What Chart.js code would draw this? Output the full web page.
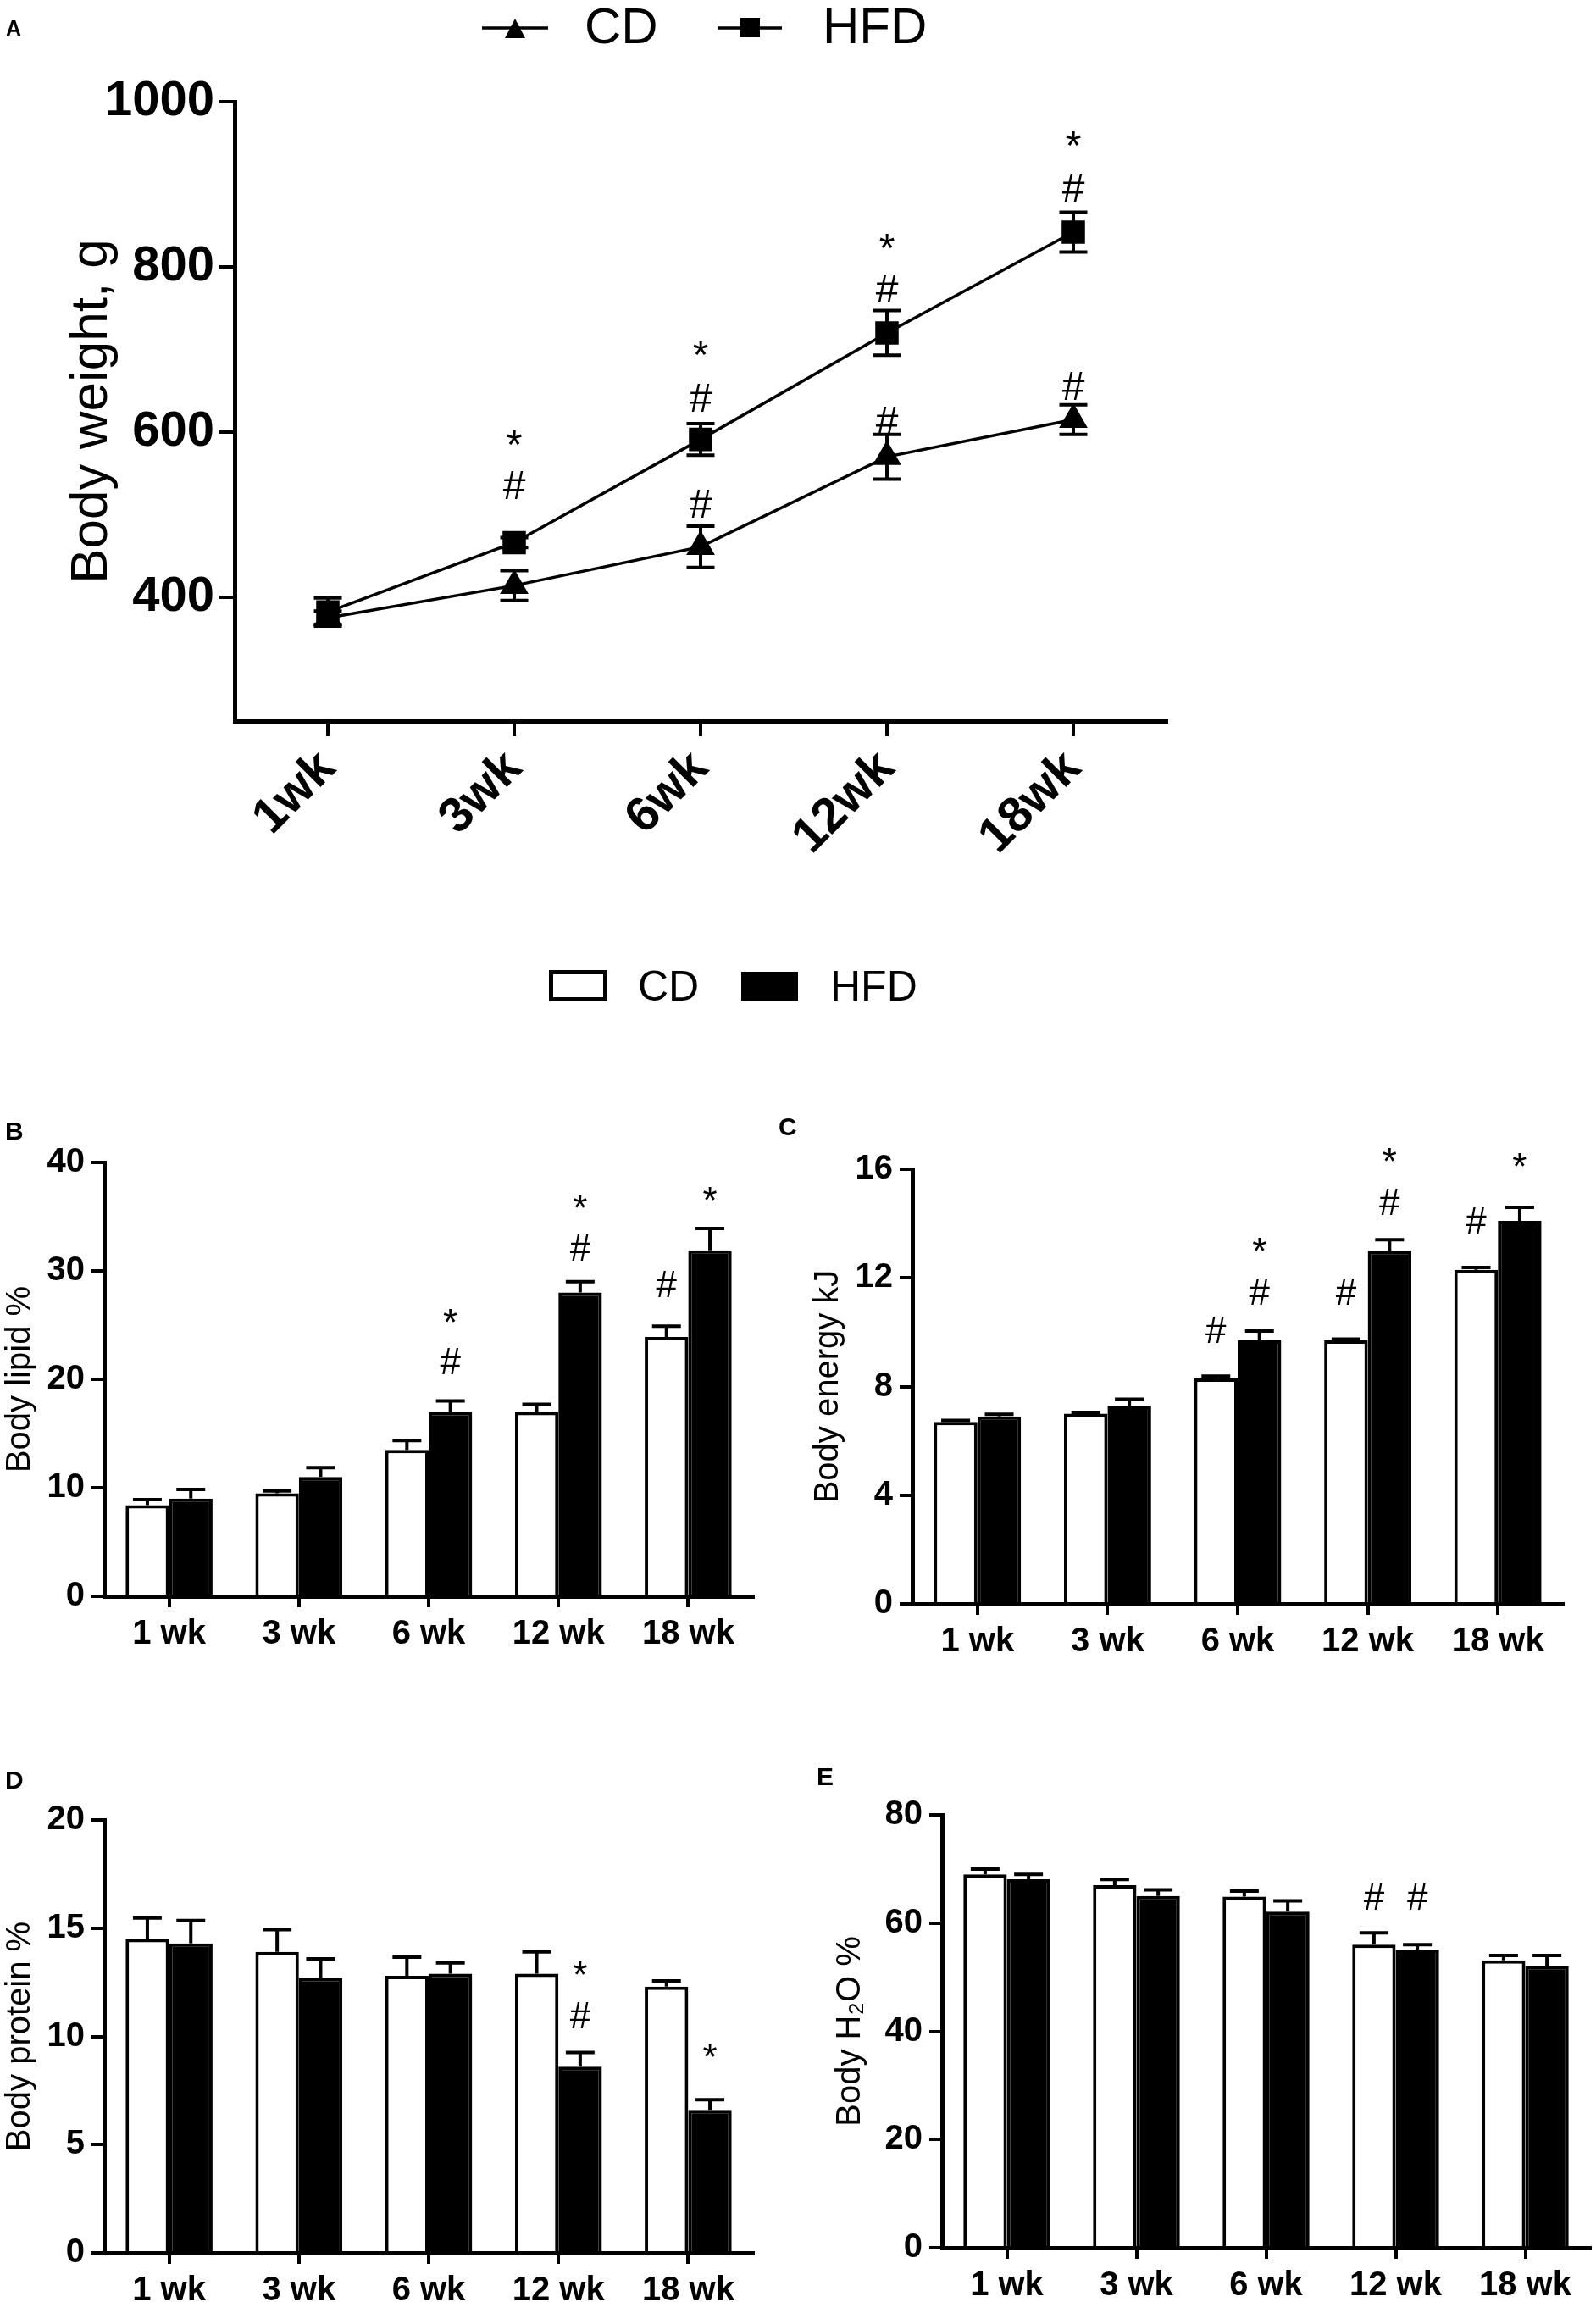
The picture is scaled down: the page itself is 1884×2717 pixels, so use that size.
<!DOCTYPE html>
<html>
<head>
<meta charset="utf-8">
<script src="https://cdn.jsdelivr.net/npm/chart.js@4.4.1/dist/chart.umd.min.js"></script>
<style>
  html, body { margin: 0; padding: 0; background: #fff; }
  body { width: 1884px; height: 2717px; position: relative; overflow: hidden; }
  canvas { position: absolute; }
  .tag { position: absolute; font-family: "Liberation Sans", Arial, sans-serif; font-weight: bold; line-height: 1; color: #000; }
</style>
</head>
<body>
<canvas id="chartA" width="1884" height="1250" style="left:0;top:0"></canvas>
<canvas id="chartB" width="940" height="714" style="left:0;top:1290px"></canvas>
<canvas id="chartC" width="944" height="723" style="left:940px;top:1290px"></canvas>
<canvas id="chartD" width="940" height="729" style="left:0;top:2050px"></canvas>
<canvas id="chartE" width="944" height="723" style="left:940px;top:2050px"></canvas>
<div class="tag" style="left:7px;top:21px;font-size:25px">A</div>
<div class="tag" style="left:6px;top:1320px;font-size:30px">B</div>
<div class="tag" style="left:919px;top:1315px;font-size:30px">C</div>
<div class="tag" style="left:6px;top:2086px;font-size:30px">D</div>
<div class="tag" style="left:964px;top:2082px;font-size:30px">E</div>
<script>
const seriesNames = ['CD', 'HFD'];
const weeksA = ['1wk', '3wk', '6wk', '12wk', '18wk'];
const weeks = ['1 wk', '3 wk', '6 wk', '12 wk', '18 wk'];

// A: body weight, g (mean and SEM)
const weightCD = [375, 414, 461, 570, 615];
const weightCDErr = [8, 18, 25, 27, 18];
const weightHFD = [382, 466, 591, 720, 842];
const weightHFDErr = [17, 6, 19, 27, 24];
const weightTicks = [400, 600, 800, 1000];

// B: body lipid %
const lipidCD = [8.4, 9.5, 13.5, 17.0, 23.9];
const lipidCDErr = [0.5, 0.2, 0.85, 0.7, 1.0];
const lipidHFD = [9.0, 11.0, 17.0, 28.0, 31.9];
const lipidHFDErr = [0.85, 0.85, 1.0, 1.0, 2.0];
const lipidTicks = [0, 10, 20, 30, 40];

// C: body energy kJ
const energyCD = [6.7, 7.0, 8.3, 9.7, 12.3];
const energyCDErr = [0.05, 0.05, 0.08, 0.05, 0.08];
const energyHFD = [6.9, 7.3, 9.7, 13.0, 14.1];
const energyHFDErr = [0.08, 0.23, 0.34, 0.4, 0.5];
const energyTicks = [0, 4, 8, 12, 16];

// D: body protein %
const proteinCD = [14.5, 13.9, 12.8, 12.9, 12.3];
const proteinCDErr = [0.97, 1.03, 0.86, 1.0, 0.26];
const proteinHFD = [14.3, 12.7, 12.9, 8.6, 6.6];
const proteinHFDErr = [1.05, 0.88, 0.5, 0.66, 0.47];
const proteinTicks = [0, 5, 10, 15, 20];

// E: body H2O %
const waterCD = [69.0, 67.0, 64.9, 56.0, 53.1];
const waterCDErr = [1.0, 1.06, 1.0, 2.2, 0.9];
const waterHFD = [68.1, 65.0, 62.1, 55.1, 52.1];
const waterHFDErr = [0.9, 1.15, 2.0, 0.9, 1.9];
const waterTicks = [0, 20, 40, 60, 80];

// significance marks: [series, week, symbol, value where the mark sits]
const weightMarks = [
  [1, 1, '#', 532], [1, 1, '*', 592],
  [0, 2, '#', 510], [1, 2, '#', 638], [1, 2, '*', 701],
  [0, 3, '#', 610], [1, 3, '#', 770], [1, 3, '*', 831],
  [0, 4, '#', 652], [1, 4, '#', 892], [1, 4, '*', 955]
];
const lipidMarks = [
  [1, 2, '#', 21.4], [1, 2, '*', 25.8],
  [1, 3, '#', 31.9], [1, 3, '*', 36.3],
  [0, 4, '#', 28.5], [1, 4, '*', 37.0]
];
const energyMarks = [
  [0, 2, '#', 9.97], [1, 2, '#', 11.4], [1, 2, '*', 13.2],
  [0, 3, '#', 11.4], [1, 3, '#', 14.7], [1, 3, '*', 16.5],
  [0, 4, '#', 14.0], [1, 4, '*', 16.3]
];
const proteinMarks = [
  [1, 3, '#', 10.85], [1, 3, '*', 13.1], [1, 4, '*', 9.3]
];
const waterMarks = [
  [0, 3, '#', 64.4], [1, 3, '#', 64.4]
];

const SANS = '"Liberation Sans", Arial, sans-serif';

const errorBars = {
  id: 'errorBars',
  afterDatasetsDraw(chart, args, opts) {
    const ctx = chart.ctx;
    const y = chart.scales.y;
    ctx.save();
    ctx.strokeStyle = '#000';
    ctx.lineWidth = opts.width;
    opts.errors.forEach((errs, d) => {
      const values = chart.data.datasets[d].data;
      chart.getDatasetMeta(d).data.forEach((el, i) => {
        const top = y.getPixelForValue(values[i] + errs[i]);
        const bottom = y.getPixelForValue(opts.both ? values[i] - errs[i] : values[i]);
        const half = opts.cap / 2;
        ctx.beginPath();
        ctx.moveTo(el.x, bottom);
        ctx.lineTo(el.x, top);
        ctx.moveTo(el.x - half, top);
        ctx.lineTo(el.x + half, top);
        if (opts.both) {
          ctx.moveTo(el.x - half, bottom);
          ctx.lineTo(el.x + half, bottom);
        }
        ctx.stroke();
      });
    });
    ctx.restore();
  }
};

const marks = {
  id: 'marks',
  afterDraw(chart, args, opts) {
    const ctx = chart.ctx;
    const y = chart.scales.y;
    ctx.save();
    ctx.fillStyle = '#000';
    ctx.textAlign = 'center';
    ctx.textBaseline = 'middle';
    ctx.font = opts.size + 'px ' + SANS;
    opts.items.forEach(([d, i, sym, v]) => {
      const x = chart.getDatasetMeta(d).data[i].x;
      const shift = sym === '*' ? opts.size * 0.22 : 0;
      ctx.fillText(sym, x, y.getPixelForValue(v) + shift);
    });
    ctx.restore();
  }
};

// both figure legends live in the top canvas
const figLegend = {
  id: 'figLegend',
  afterDraw(chart) {
    const ctx = chart.ctx;
    ctx.save();
    ctx.fillStyle = '#000';
    ctx.strokeStyle = '#000';
    ctx.textBaseline = 'alphabetic';
    ctx.textAlign = 'left';

    // line chart legend
    ctx.lineWidth = 3.5;
    ctx.beginPath();
    ctx.moveTo(569, 33); ctx.lineTo(647, 33);
    ctx.moveTo(847, 33); ctx.lineTo(923, 33);
    ctx.stroke();
    ctx.beginPath();
    ctx.moveTo(608, 22); ctx.lineTo(620, 45); ctx.lineTo(596, 45); ctx.closePath();
    ctx.fill();
    ctx.fillRect(874, 21, 23, 23);
    ctx.font = '60px ' + SANS;
    ctx.fillText(seriesNames[0], 690, 51);
    ctx.fillText(seriesNames[1], 971, 51);

    // bar chart legend
    ctx.lineWidth = 5;
    ctx.strokeRect(650.5, 1147.5, 64, 32);
    ctx.fillRect(875, 1147, 67, 34);
    ctx.font = '50px ' + SANS;
    ctx.fillText(seriesNames[0], 753, 1181);
    ctx.fillText(seriesNames[1], 980, 1181);
    ctx.restore();
  }
};

function axisGrid(len) {
  return { display: true, drawOnChartArea: false, drawTicks: true, tickLength: len,
           color: '#000', lineWidth: 4, offset: false };
}

new Chart(document.getElementById('chartA'), {
  type: 'line',
  data: {
    labels: weeksA,
    datasets: [
      { label: seriesNames[0], data: weightCD, borderColor: '#000', backgroundColor: '#000',
        borderWidth: 3.5, pointStyle: 'triangle', pointRadius: 16,
        pointBackgroundColor: '#000', pointBorderColor: '#000', tension: 0, fill: false, clip: false },
      { label: seriesNames[1], data: weightHFD, borderColor: '#000', backgroundColor: '#000',
        borderWidth: 3.5, pointStyle: 'rect', pointRadius: 17,
        pointBackgroundColor: '#000', pointBorderColor: '#000', tension: 0, fill: false, clip: false }
    ]
  },
  options: {
    responsive: false,
    animation: false,
    devicePixelRatio: 1,
    layout: { padding: { left: 0, top: 120, right: 507, bottom: 0 } },
    plugins: {
      legend: { display: false },
      tooltip: { enabled: false },
      errorBars: { errors: [weightCDErr, weightHFDErr], both: true, cap: 33, width: 4 },
      marks: { items: weightMarks, size: 48 }
    },
    scales: {
      x: {
        type: 'category',
        offset: true,
        grid: axisGrid(18),
        border: { display: true, color: '#000', width: 5 },
        ticks: { color: '#000', font: { family: SANS, size: 58, weight: 'bold' },
                 minRotation: 45, maxRotation: 45, padding: 4, autoSkip: false },
        afterFit: s => { s.height = 399; }
      },
      y: {
        min: 250,
        max: 1000,
        afterBuildTicks: s => { s.ticks = weightTicks.map(v => ({ value: v })); },
        grid: axisGrid(18),
        border: { display: true, color: '#000', width: 5 },
        ticks: { color: '#000', font: { family: SANS, size: 58, weight: 'bold' }, padding: 6,
                 callback: v => String(v) },
        title: { display: true, text: 'Body weight, g', color: '#000',
                 font: { family: SANS, size: 62 }, padding: { top: 72, bottom: 0 } },
        afterFit: s => { s.width = 277; }
      }
    }
  },
  plugins: [errorBars, marks, figLegend]
});

function barChart(id, cd, cdErr, hfd, hfdErr, ticks, title, items, box) {
  return new Chart(document.getElementById(id), {
    type: 'bar',
    data: {
      labels: weeks,
      datasets: [
        { label: seriesNames[0], data: cd, backgroundColor: '#fff', borderColor: '#000',
          borderWidth: 4, borderSkipped: 'bottom' },
        { label: seriesNames[1], data: hfd, backgroundColor: '#000', borderColor: '#000',
          borderWidth: 4, borderSkipped: 'bottom' }
      ]
    },
    options: {
      responsive: false,
      animation: false,
      devicePixelRatio: 1,
      datasets: { bar: { categoryPercentage: 0.67, barPercentage: 1.0 } },
      layout: { padding: { left: 0, top: box.top, right: box.right, bottom: 0 } },
      plugins: {
        legend: { display: false },
        tooltip: { enabled: false },
        errorBars: { errors: [cdErr, hfdErr], both: false, cap: 34, width: 4 },
        marks: { items: items, size: 44 }
      },
      scales: {
        x: {
          offset: true,
          grid: axisGrid(13),
          border: { display: true, color: '#000', width: 5 },
          ticks: { color: '#000', font: { family: SANS, size: 40, weight: 'bold' },
                   maxRotation: 0, padding: 8, autoSkip: false },
          afterFit: s => { s.height = 120; }
        },
        y: {
          min: ticks[0],
          max: ticks[ticks.length - 1],
          afterBuildTicks: s => { s.ticks = ticks.map(v => ({ value: v })); },
          grid: axisGrid(15),
          border: { display: true, color: '#000', width: 5 },
          ticks: { color: '#000', font: { family: SANS, size: 40, weight: 'bold' }, padding: 8,
                   callback: v => String(v) },
          title: { display: true, text: title, color: '#000',
                   font: { family: SANS, size: 40 }, padding: { top: box.titlePad, bottom: 0 } },
          afterFit: s => { s.width = box.yWidth; }
        }
      }
    },
    plugins: [errorBars, marks]
  });
}

barChart('chartB', lipidCD, lipidCDErr, lipidHFD, lipidHFDErr, lipidTicks,
         'Body lipid %', lipidMarks, { top: 82, right: 51, yWidth: 123, titlePad: 0 });
barChart('chartC', energyCD, energyCDErr, energyHFD, energyHFDErr, energyTicks,
         'Body energy kJ', energyMarks, { top: 90, right: 39, yWidth: 137, titlePad: 14 });
barChart('chartD', proteinCD, proteinCDErr, proteinHFD, proteinHFDErr, proteinTicks,
         'Body protein %', proteinMarks, { top: 98, right: 51, yWidth: 123, titlePad: 0 });
barChart('chartE', waterCD, waterCDErr, waterHFD, waterHFDErr, waterTicks,
         'Body H\u2082O %', waterMarks, { top: 92, right: 7, yWidth: 172, titlePad: 40 });
</script>
</body>
</html>
